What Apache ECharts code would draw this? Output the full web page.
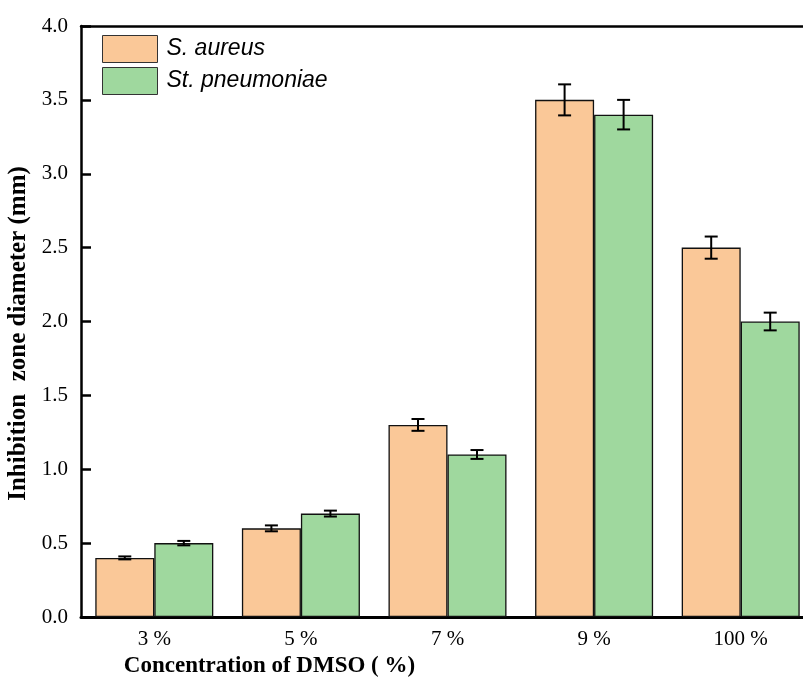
<!DOCTYPE html>
<html><head><meta charset="utf-8">
<script src="https://cdn.jsdelivr.net/npm/echarts@6/dist/echarts.min.js"></script>
<style>html,body{margin:0;padding:0;background:#fff}#c{width:803px;height:683px}</style>
</head><body><div id="c"></div>
<script>
var categories = ['3 %', '5 %', '7 %', '9 %', '100 %'];
var aureus = [0.4, 0.6, 1.3, 3.5, 2.5];
var aureusErr = [0.01, 0.02, 0.04, 0.105, 0.075];
var pneumoniae = [0.5, 0.7, 1.1, 3.4, 2.0];
var pneumoniaeErr = [0.015, 0.02, 0.03, 0.1, 0.06];
var seriesNames = ['S. aureus', 'St. pneumoniae'];
var colors = ['#FAC898', '#9FD89E'];
var catGap = 0.195;

function errSeries(vals, errs, side) {
  return {
    type: 'custom', silent: true, z: 10,
    data: vals.map(function (v, i) { return [i, v, errs[i]]; }),
    renderItem: function (params, api) {
      var i = api.value(0), v = api.value(1), e = api.value(2);
      var band = api.size([1, 0])[0];
      var bw = band * (1 - catGap) / 2;
      var c = api.coord([i, v]);
      var x = c[0] + side * bw / 2;
      var top = api.coord([i, v + e])[1];
      var bot = api.coord([i, v - e])[1];
      var cap = 6.5;
      var st = { stroke: '#000', lineWidth: 2 };
      return { type: 'group', children: [
        { type: 'line', shape: { x1: x, y1: top, x2: x, y2: bot }, style: st },
        { type: 'line', shape: { x1: x - cap, y1: top, x2: x + cap, y2: top }, style: st },
        { type: 'line', shape: { x1: x - cap, y1: bot, x2: x + cap, y2: bot }, style: st }
      ]};
    }
  };
}

var chart = echarts.init(document.getElementById('c'), null, { renderer: 'canvas' });
chart.setOption({
  animation: false,
  backgroundColor: '#fff',
  grid: { left: 81, top: 26, width: 733, height: 591, containLabel: false, outerBoundsMode: 'none' },
  legend: {
    left: 102, top: 35, orient: 'vertical', itemWidth: 55, itemHeight: 27, itemGap: 4, padding: 0,
    icon: 'rect',
    itemStyle: { borderColor: '#333', borderWidth: 1 },
    textStyle: { fontFamily: 'Liberation Sans', fontStyle: 'italic', fontSize: 23, color: '#000', padding: [0, 0, 0, 4] },
    data: seriesNames
  },
  xAxis: [{
    type: 'category', data: categories, position: 'bottom',
    axisLine: { lineStyle: { color: '#000', width: 3 } },
    axisTick: { inside: true, alignWithLabel: true, length: 8, lineStyle: { color: '#000', width: 2 } },
    axisLabel: { fontFamily: 'Liberation Serif', fontSize: 21, color: '#000', margin: 12 },
    name: 'Concentration of DMSO ( %)', nameLocation: 'middle', nameGap: 36,
    nameTextStyle: { fontFamily: 'Liberation Serif', fontWeight: 'bold', fontSize: 23, color: '#000', padding: [0, 356, 0, 0] }
  }, {
    type: 'category', data: categories, position: 'top',
    axisLine: { lineStyle: { color: '#000', width: 2.5 } },
    axisTick: { show: false }, axisLabel: { show: false }
  }],
  yAxis: {
    type: 'value', min: 0, max: 4, interval: 0.5,
    axisLine: { show: true, lineStyle: { color: '#000', width: 2.5 } },
    axisTick: { show: true, inside: true, length: 10, lineStyle: { color: '#000', width: 2.5 } },
    splitLine: { show: false },
    axisLabel: { fontFamily: 'Liberation Serif', fontSize: 21, color: '#000', margin: 13, formatter: function (v) { return v.toFixed(1); } },
    name: 'Inhibition  zone diameter (mm)', nameLocation: 'middle', nameGap: 48, nameRotate: 90,
    nameTextStyle: { fontFamily: 'Liberation Serif', fontWeight: 'bold', fontSize: 25, color: '#000', padding: [0, 24, 0, 0] }
  },
  series: [
    { name: seriesNames[0], type: 'bar', data: aureus, barGap: '0%', barCategoryGap: (catGap * 100) + '%',
      itemStyle: { color: colors[0], borderColor: '#111', borderWidth: 1.3 } },
    { name: seriesNames[1], type: 'bar', data: pneumoniae, barGap: '0%', barCategoryGap: (catGap * 100) + '%',
      itemStyle: { color: colors[1], borderColor: '#111', borderWidth: 1.3 } },
    errSeries(aureus, aureusErr, -1),
    errSeries(pneumoniae, pneumoniaeErr, 1)
  ]
});
</script></body></html>
